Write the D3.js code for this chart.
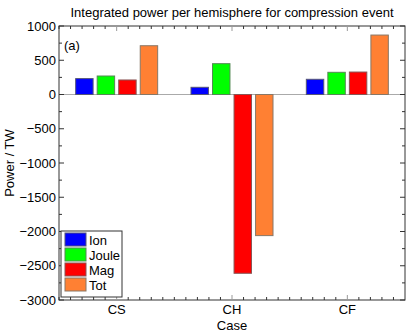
<!DOCTYPE html>
<html>
<head>
<meta charset="utf-8">
<script src="https://cdn.jsdelivr.net/npm/d3@7"></script>
<style>
  body { margin: 0; background: #fff; }
  text { font-family: "Liberation Sans", Arial, sans-serif; fill: #000; }
</style>
</head>
<body>
<div class="main"></div>
<script>
//// data
const cases = ['CS', 'CH', 'CF'];
const seriesNames = ['Ion', 'Joule', 'Mag', 'Tot'];
const ion = [232, 105, 222];
const joule = [270, 450, 324];
const mag = [212, -2610, 328];
const tot = [712, -2060, 868];
const yTicks = [1000, 500, 0, -500, -1000, -1500, -2000, -2500, -3000];

const colors = ['#0000ff', '#00ff00', '#ff0000', '#ff8033'];
const strokes = ['#555577', '#558855', '#885555', '#887766'];

const width = 411;
const height = 332;
const margin = { top: 26, right: 6, bottom: 32, left: 59 };
const innerW = width - margin.left - margin.right;
const innerH = height - margin.top - margin.bottom;

const svg = d3.select('.main').append('svg')
  .attr('width', width)
  .attr('height', height);
const g = svg.append('g').attr('transform', `translate(${margin.left},${margin.top})`);

const x = d3.scaleBand().domain(cases).range([0, innerW]).padding(0);
const xs = d3.scaleBand().domain(seriesNames).range([0, 82]).paddingInner(0.19);
const y = d3.scaleLinear().domain([-3000, 1000]).range([innerH, 0]);
const xLin = d3.scaleLinear().domain([0, 3]).range([0, innerW]);

const allSeries = [ion, joule, mag, tot];
const rows = [];
cases.forEach((c, i) => {
  allSeries.forEach((s, j) => rows.push({ c, name: seriesNames[j], j, v: s[i] }));
});

// zero line
g.append('line')
  .attr('x1', 0).attr('x2', innerW)
  .attr('y1', y(0)).attr('y2', y(0))
  .attr('stroke', '#aaa').attr('stroke-width', 1);

// bars
g.selectAll('rect.bar')
  .data(rows)
  .enter()
  .append('rect')
  .attr('class', 'bar')
  .attr('x', d => x(d.c) + x.bandwidth() / 2 - 41 + xs(d.name))
  .attr('y', d => y(Math.max(0, d.v)))
  .attr('width', xs.bandwidth())
  .attr('height', d => Math.abs(y(d.v) - y(0)))
  .attr('fill', d => colors[d.j])
  .attr('stroke', d => strokes[d.j])
  .attr('stroke-width', 1);

// frame
g.append('rect')
  .attr('width', innerW).attr('height', innerH)
  .attr('fill', 'none').attr('stroke', '#333').attr('stroke-width', 1);

// y ticks left/right
const yMinor = d3.range(-3000, 1001, 250);
g.selectAll('.ymin')
  .data(yMinor)
  .enter()
  .append('line')
  .attr('x1', 0).attr('x2', d => d % 500 === 0 ? 5 : 3)
  .attr('y1', d => y(d)).attr('y2', d => y(d))
  .attr('stroke', '#333');
g.selectAll('.ymin2')
  .data(yMinor)
  .enter()
  .append('line')
  .attr('x1', innerW).attr('x2', d => innerW - (d % 500 === 0 ? 5 : 3))
  .attr('y1', d => y(d)).attr('y2', d => y(d))
  .attr('stroke', '#333');

g.selectAll('.ylab')
  .data(yTicks)
  .enter()
  .append('text')
  .attr('x', -3)
  .attr('y', d => y(d))
  .attr('dy', '0.35em')
  .attr('text-anchor', 'end')
  .attr('font-size', 13)
  .text(d => d < 0 ? '\u2212' + Math.abs(d) : d);

// x ticks top/bottom
const xMinor = d3.range(0, 30).map(i => i / 10);
const isMajor = d => Math.round(d * 10) % 10 === 5;
g.selectAll('.xminB')
  .data(xMinor)
  .enter()
  .append('line')
  .attr('x1', d => xLin(d)).attr('x2', d => xLin(d))
  .attr('y1', innerH).attr('y2', d => innerH - (isMajor(d) ? 5 : 3))
  .attr('stroke', d => isMajor(d) ? '#999' : '#333');
g.selectAll('.xminT')
  .data(xMinor)
  .enter()
  .append('line')
  .attr('x1', d => xLin(d)).attr('x2', d => xLin(d))
  .attr('y1', 0).attr('y2', d => isMajor(d) ? 5 : 3)
  .attr('stroke', d => isMajor(d) ? '#999' : '#333');

g.selectAll('.xlab')
  .data(cases)
  .enter()
  .append('text')
  .attr('x', d => x(d) + x.bandwidth() / 2)
  .attr('y', innerH + 14)
  .attr('text-anchor', 'middle')
  .attr('font-size', 13)
  .text(d => d);

// titles
svg.append('text')
  .attr('x', margin.left + innerW / 2)
  .attr('y', 17)
  .attr('text-anchor', 'middle')
  .attr('font-size', 13)
  .text('Integrated power per hemisphere for compression event');

svg.append('text')
  .attr('x', margin.left + innerW / 2)
  .attr('y', 330)
  .attr('text-anchor', 'middle')
  .attr('font-size', 13)
  .text('Case');

svg.append('text')
  .attr('transform', `translate(14,${margin.top + innerH / 2}) rotate(-90)`)
  .attr('text-anchor', 'middle')
  .attr('font-size', 13)
  .text('Power / TW');

g.append('text')
  .attr('x', 5).attr('y', 24)
  .attr('font-size', 13)
  .text('(a)');

// legend
const legend = g.append('g').attr('transform', `translate(2,${innerH - 69})`);
legend.append('rect')
  .attr('width', 61).attr('height', 66)
  .attr('fill', '#fff').attr('stroke', '#333');
const item = legend.selectAll('g.item')
  .data(seriesNames)
  .enter()
  .append('g')
  .attr('class', 'item')
  .attr('transform', (d, i) => `translate(4,${2 + i * 15})`);
item.append('rect')
  .attr('width', 21).attr('height', 13)
  .attr('fill', (d, i) => colors[i])
  .attr('stroke', (d, i) => strokes[i]);
item.append('text')
  .attr('x', 24).attr('y', 7)
  .attr('dy', '0.35em')
  .attr('font-size', 13)
  .text(d => d);
</script>
</body>
</html>
